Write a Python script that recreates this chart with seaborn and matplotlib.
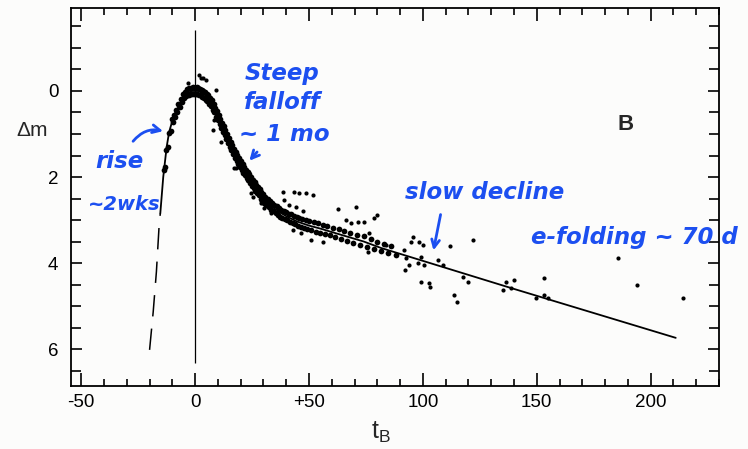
import matplotlib
matplotlib.use("Agg")
import numpy as np
import seaborn as sns
from matplotlib import pyplot as plt
from matplotlib.ticker import MultipleLocator

# template light curve
t_fit = [-15.3, -14.0, -12.5, -11.4, -9.5, -7.0, -5.0, -3.0, -1.5, 0.0, 1.5, 3.0, 4.5,
         6.0, 8.0, 10.0, 12.0, 14.5, 17.0, 19.0, 22.0, 25.0, 28.0, 30.0, 34.0, 37.7,
         41.0, 45.0, 50.0, 55.0, 60.0, 74.0, 81.6, 138.6, 211.0]
dm_fit = [2.85, 2.0, 1.3, 0.95, 0.6, 0.33, 0.12, 0.04, 0.0, 0.0, 0.0, 0.05, 0.1,
          0.2, 0.38, 0.6, 0.85, 1.14, 1.42, 1.62, 1.88, 2.12, 2.35, 2.5, 2.7, 2.84,
          2.94, 3.04, 3.13, 3.2, 3.28, 3.5, 3.65, 4.58, 5.74]

# dashed early rise
t_rise = [-20.0, -18.4, -17.0, -15.8, -15.3]
dm_rise = [6.02, 5.13, 4.2, 3.12, 2.85]

# observations: dense band along the curve
t_band = [-13.8, -12.6, -11.5, -10.2, -9.3, -8.4, -7.4, -6.3, -5.4, -4.4, -3.4, -2.6, -1.8,
          -0.9, -0.2, 0.6, 1.3, 2.1, 2.8, 3.6, 4.3, 5.1, 5.8, 6.6, 7.3, 8.1, 8.8, 9.6,
          10.3, 11.1, 11.8, 12.6, 13.3, 14.1, 14.8, 15.6, 16.3, 17.1, 17.8, 18.6, 19.3,
          20.1, 20.8, 21.6, 22.3, 23.1, 23.8, 24.6, 25.3, 26.1, 26.8, 27.6, 28.3, 29.1,
          29.8, 30.8, 31.8, 32.8, 33.8, 34.8, 35.8, 36.8, 37.8, 38.8, 39.8, 41, 42.2,
          43.4, 44.6, 45.8, 47, 48.5, 50, 52, 54, 56, 58, 60.5, 63, 65.5, 68, 71, 74,
          77, 80, 83, 86,
          -13.2, -12.1, -10.8, -9.8, -8.8, -7.8, -6.8, -5.8, -4.8, -3.8, -2.9, -2.1,
          -1.3, -0.5, 0.3, 1.0, 1.7, 2.4, 3.2, 3.9, 4.7, 5.4, 6.2, 6.9, 7.7, 8.4, 9.2,
          9.9, 10.7, 11.4, 12.2, 12.9, 13.7, 14.4, 15.2, 15.9, 16.7, 17.4, 18.2, 18.9,
          19.7, 20.4, 21.2, 21.9, 22.7, 23.4, 24.2, 24.9, 25.7, 26.4, 27.2, 27.9, 28.7,
          29.4, 30.3, 31.3, 32.3, 33.3, 34.3, 35.3, 36.3, 37.3, 38.3, 39.3, 40.4, 41.6,
          42.8, 44, 45.2, 46.4, 47.8, 49.2, 51, 53, 55, 57, 59, 61.5, 64, 66.5, 69.5,
          72.5, 75.5, 78.5, 81.5, 84.5, 88]
dm_band = [1.84, 1.38, 0.98, 0.66, 0.55, 0.44, 0.30, 0.18, 0.08, 0.02, -0.04, -0.06, -0.08,
           -0.1, -0.07, -0.09, -0.06, -0.05, -0.03, 0.0, 0.02, 0.06, 0.1, 0.17, 0.22, 0.3,
           0.39, 0.47, 0.55, 0.64, 0.74, 0.82, 0.9, 1.0, 1.09, 1.18, 1.25, 1.35, 1.42, 1.49,
           1.56, 1.63, 1.7, 1.76, 1.83, 1.88, 1.94, 2.0, 2.06, 2.12, 2.18, 2.24, 2.29, 2.35,
           2.4, 2.46, 2.5, 2.55, 2.6, 2.65, 2.68, 2.72, 2.76, 2.78, 2.82, 2.85, 2.87, 2.9,
           2.94, 2.96, 2.98, 3.0, 3.03, 3.05, 3.08, 3.12, 3.14, 3.18, 3.22, 3.26, 3.3, 3.34,
           3.38, 3.44, 3.5, 3.55, 3.6,
           1.76, 1.3, 0.92, 0.72, 0.6, 0.48, 0.37, 0.26, 0.17, 0.12, 0.1, 0.07, 0.06, 0.08,
           0.06, 0.08, 0.09, 0.1, 0.13, 0.16, 0.2, 0.24, 0.3, 0.36, 0.44, 0.5, 0.6, 0.67,
           0.77, 0.85, 0.95, 1.03, 1.12, 1.21, 1.3, 1.38, 1.47, 1.55, 1.62, 1.69, 1.77,
           1.83, 1.9, 1.96, 2.02, 2.08, 2.14, 2.2, 2.26, 2.32, 2.38, 2.43, 2.5, 2.55, 2.6,
           2.66, 2.7, 2.76, 2.8, 2.84, 2.88, 2.92, 2.95, 2.98, 3.0, 3.04, 3.07, 3.1, 3.13,
           3.16, 3.18, 3.21, 3.24, 3.27, 3.3, 3.33, 3.36, 3.4, 3.45, 3.48, 3.53, 3.58, 3.62,
           3.68, 3.72, 3.77, 3.82]

# observations: scattered points
t_scat = [1.8, 3.5, -3.0, 9.2, 7.9, 11.4, 18.0, 2.6, 4.8, 8.3, 17.0, 38.6, 43.4, 48.7,
          51.8, 45.6, 39.0, 41.2, 44.3, 47.4, 62.7, 70.6, 66.2, 68.4, 71.5, 74.0, 78.5,
          80.0, 76.3, 75.9, 56.0, 51.0, 43.0, 46.5, 24.6, 25.4, 29.0, 30.3, 33.3, 95.6,
          98.2, 100.0, 94.7, 91.7, 92.5, 92.0, 94.0, 97.8, 100.4, 99.0, 99.0, 102.6, 103.0,
          106.6, 109.0, 112.0, 122.0, 117.5, 119.7, 113.6, 115.0, 135.0, 136.4, 140.0,
          138.6, 153.0, 153.0, 149.6, 154.8, 185.5, 194.0, 214.0, 83.8]
dm_scat = [-0.37, -0.3, -0.19, -0.02, 0.9, 1.18, 1.8, -0.3, -0.26, 0.67, 1.8, 2.35, 2.35,
           2.37, 2.42, 2.38, 2.53, 2.65, 2.7, 2.8, 2.75, 2.69, 3.0, 3.08, 3.04, 3.04, 2.96,
           2.88, 3.3, 3.74, 3.5, 3.47, 3.23, 3.3, 2.37, 2.46, 2.6, 2.72, 2.84, 3.4, 3.51,
           3.58, 3.51, 3.7, 3.88, 4.16, 4.05, 4.0, 4.05, 3.86, 4.44, 4.47, 4.56, 3.93, 4.05,
           3.6, 3.47, 4.33, 4.44, 4.74, 4.9, 4.63, 4.44, 4.4, 4.58, 4.35, 4.74, 4.81, 4.81,
           3.88, 4.51, 4.81, 3.58]

x_ticks = [-50, 0, 50, 100, 150, 200]
x_ticklabels = ["-50", "0", "+50", "100", "150", "200"]
y_ticks = [0, 2, 4, 6]

pen = "#1c4ff0"
paper = "#fcfcfb"

sns.set_style("ticks")
plt.rcParams["font.family"] = ["Liberation Sans", "DejaVu Sans"]

fig = plt.figure(figsize=(7.48, 4.49), dpi=100, facecolor=paper)
ax = fig.add_axes([71 / 748, 1 - 386 / 449, 648 / 748, 378 / 449], facecolor=paper)

ax.vlines(0, -1.42, 6.33, color="black", lw=0.9)
sns.lineplot(x=t_rise, y=dm_rise, estimator=None, sort=False, color="black", lw=1.1,
             dashes=False, ax=ax)
ax.lines[-1].set_dashes((14, 8))
sns.lineplot(x=t_fit, y=dm_fit, estimator=None, sort=False, color="black", lw=1.3, ax=ax)
sns.scatterplot(x=t_band, y=dm_band, color="black", s=17, linewidth=0, ax=ax)
sns.scatterplot(x=t_scat, y=dm_scat, color="black", s=9, linewidth=0, ax=ax)

ax.set_xlim(-54.5, 230)
ax.set_ylim(6.86, -1.93)
ax.set_xticks(x_ticks)
ax.set_xticklabels(x_ticklabels)
ax.set_yticks(y_ticks)
ax.xaxis.set_minor_locator(MultipleLocator(10))
ax.yaxis.set_minor_locator(MultipleLocator(0.5))
ax.tick_params(axis="both", which="both", direction="in", top=True, right=True,
               color="black", width=1.2, labelsize=13.5, labelcolor="black")
ax.tick_params(axis="x", which="major", length=9.5, pad=6)
ax.tick_params(axis="x", which="minor", length=5)
ax.tick_params(axis="y", which="major", length=8, pad=9)
ax.tick_params(axis="y", which="minor", length=7)
for s in ax.spines.values():
    s.set_linewidth(1.3)
    s.set_color("black")

ax.set_ylabel("Δm", rotation=0, fontsize=15, ha="center", va="center")
ax.yaxis.set_label_coords(-0.06, 0.677)
ax.set_xlabel("t$_\\mathregular{B}$", fontsize=18, va="center")
ax.xaxis.set_label_coords(0.478, -0.122)

ax.text(189, 0.79, "B", fontsize=16, fontweight="bold", ha="center", va="center")

hand = dict(color=pen, fontsize=16.5, fontweight="bold", style="italic",
            family="DejaVu Sans", ha="center", va="center")
ax.text(38.2, -0.40, "Steep", **hand)
ax.text(38.2, 0.26, "falloff", **hand)
ax.text(39.0, 1.02, "~ 1 mo", **hand)
ax.text(-33.3, 1.63, "rise", **hand)
ax.text(-31.1, 2.65, "~2wks", **{**hand, "fontsize": 14})
ax.text(127.2, 2.37, "slow decline", **hand)
ax.text(193, 3.40, "e-folding ~ 70 d", clip_on=False, **hand)

arrow = dict(arrowstyle="->", color=pen, lw=2, mutation_scale=14)
ax.annotate("", xy=(-12.9, 0.95), xytext=(-28.0, 1.22),
            arrowprops={**arrow, "connectionstyle": "arc3,rad=-0.35"})
ax.annotate("", xy=(23.0, 1.67), xytext=(28.0, 1.37), arrowprops=arrow)
ax.annotate("", xy=(104.4, 3.77), xytext=(108.0, 2.81), arrowprops=arrow)

sns.despine(ax=ax, top=False, right=False)
fig.savefig("out.png", dpi=100, facecolor=paper)
